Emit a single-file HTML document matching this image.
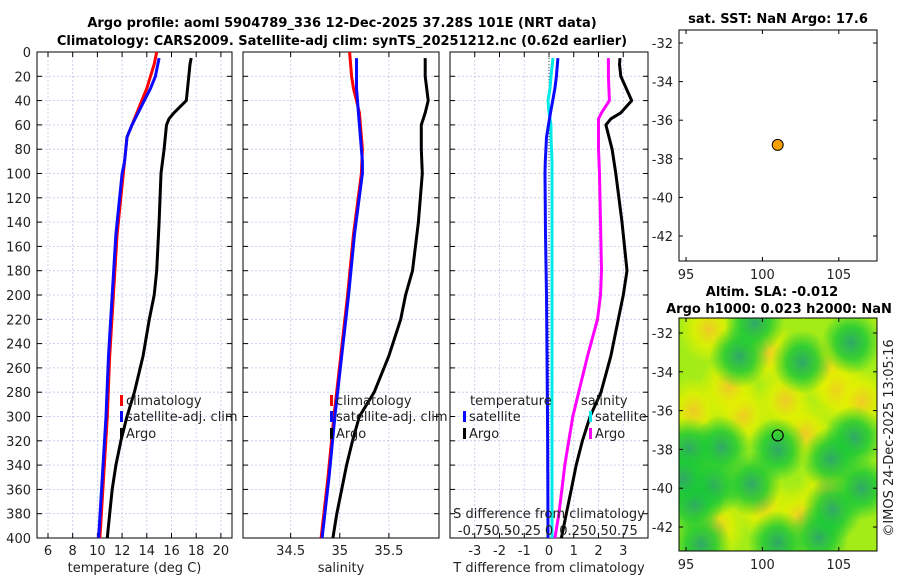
<!DOCTYPE html>
<html><head><meta charset="utf-8"><style>
body{margin:0;background:#fff;}
svg{display:block;font-family:"DejaVu Sans","Liberation Sans",sans-serif;}
</style></head><body>
<svg id="fig" width="900" height="580" viewBox="0 0 900 580"></svg>
<script>
// ---- data ----
const depthsClim = [0,10,20,30,40,50,60,70,80,100,150,200,250,300,350,400];
const tempClim   = [14.8,14.6,14.3,14.0,13.6,13.2,12.8,12.4,12.3,12.1,11.6,11.3,11.0,10.8,10.5,10.2];
const depthsSat  = [5,20,30,40,50,60,70,90,100,150,200,250,300,350,400];
const tempSat    = [15.0,14.7,14.3,13.8,13.3,12.8,12.4,12.2,12.0,11.5,11.2,10.9,10.7,10.4,10.1];
const depthsArgo = [5,10,20,40,50,55,60,80,100,140,180,200,220,250,280,300,320,340,360,380,400];
const tempArgo   = [17.6,17.5,17.4,17.2,16.2,15.8,15.6,15.4,15.15,15.0,14.8,14.6,14.2,13.7,13.0,12.4,11.9,11.5,11.2,11.0,10.8];
const salClim    = [35.1,35.11,35.12,35.14,35.17,35.2,35.21,35.22,35.23,35.22,35.14,35.08,35.01,34.94,34.88,34.81];
const salSat     = [35.17,35.17,35.17,35.18,35.19,35.2,35.21,35.23,35.23,35.15,35.09,35.02,34.95,34.89,34.82];
const salArgo    = [35.87,35.87,35.87,35.9,35.87,35.85,35.83,35.83,35.84,35.8,35.74,35.67,35.62,35.5,35.35,35.2,35.13,35.07,35.02,34.97,34.93];
const tDiffSat   = [0.36,0.3,0.24,0.15,0.06,-0.02,-0.1,-0.15,-0.16,-0.14,-0.1,-0.08,-0.06,-0.05,-0.04];
const sDiffSat   = [0.04,0.02,0.01,-0.01,0.0,0.02,0.02,0.03,0.03,0.03,0.03,0.03,0.03,0.03,0.03];
const tDiffArgo  = [2.87,2.85,2.9,3.34,2.9,2.5,2.3,2.55,2.7,2.95,3.15,3.0,2.8,2.5,2.1,1.66,1.35,1.1,0.9,0.7,0.5];
const sDiffArgo  = [0.6,0.6,0.6,0.61,0.53,0.5,0.5,0.5,0.51,0.52,0.53,0.52,0.49,0.39,0.3,0.24,0.2,0.16,0.13,0.1,0.06];
const depthTicks = [0,20,40,60,80,100,120,140,160,180,200,220,240,260,280,300,320,340,360,380,400];
const tempTicks  = [6,8,10,12,14,16,18,20];
const salTicks   = [34.5,35,35.5];
const diffTicks  = [-3,-2,-1,0,1,2,3];
const sDiffTickLabels = ["-0.75","-0.5","-0.25","0","0.25","0.5","0.75"];
const lonTicks = [95,100,105];
const latTicks = [-32,-34,-36,-38,-40,-42];
const argoLon = 101.0, argoLat = -37.28;
const greenLon = [98.5,102.6,105.8,97.3,99.3,96.7,106,103.7,101,95.2,95.5,101,104.6,96,99.5,106.5,94.8,104.5];
const greenLat = [-33.2,-33.5,-32.5,-37.9,-39.8,-39.9,-37.4,-42.5,-42.8,-38,-40.8,-38,-41.1,-42.9,-31.5,-40,-39.5,-38.5];
const yellowLon = [102.8,104.3,105,104.3,98.7,100.3,97,95.5,97.8,101.5,96.5,102.5,100,106.5];
const yellowLat = [-37.2,-33.9,-35,-40.1,-36.2,-33,-42,-36,-34.8,-35.5,-31.8,-41.5,-40.8,-35.5];

const NS="http://www.w3.org/2000/svg";
const svg=document.getElementById('fig');
function el(tag,attrs,parent){const e=document.createElementNS(NS,tag);for(const k in attrs)e.setAttribute(k,attrs[k]);(parent||svg).appendChild(e);return e;}
function txt(x,y,s,attrs){const t=el('text',Object.assign({x:x,y:y,'font-size':13,fill:'#222'},attrs||{}));t.textContent=s;return t;}

const PY0=52, PY1=538;
const yD=d=>PY0+(d/400)*(PY1-PY0);
function scale(d0,d1,p0,p1){return v=>p0+(v-d0)/(d1-d0)*(p1-p0);}
const panels=[
 {name:'temperature-panel',x0:37,x1:232,sx:scale(5.11,20.9,37,232),ticks:tempTicks,lab:'temperature (deg C)'},
 {name:'salinity-panel',x0:243,x1:439,sx:scale(34.015,36.01,243,439),ticks:salTicks,lab:'salinity'},
 {name:'difference-panel',x0:450,x1:648,sx:scale(-4,4,450,648),ticks:diffTicks,lab:'T difference from climatology'}
];
panels.forEach(p=>{
  const g=el('g',{});
  
  
  depthTicks.forEach(d=>{const y=yD(d);el('line',{x1:p.x0,x2:p.x1,y1:y,y2:y,stroke:'#c0c8ec','stroke-width':0.8,'stroke-dasharray':'2,2'},g);
    el('line',{x1:p.x0,x2:p.x0+5,y1:y,y2:y,stroke:'#000'},g);el('line',{x1:p.x1,x2:p.x1-5,y1:y,y2:y,stroke:'#000'},g);});
  p.ticks.forEach((v,i)=>{const x=p.sx(v);el('line',{x1:x,x2:x,y1:PY0,y2:PY1,stroke:'#c0c8ec','stroke-width':0.8,'stroke-dasharray':'2,2'},g);
    el('line',{x1:x,x2:x,y1:PY1,y2:PY1-5,stroke:'#000'},g);el('line',{x1:x,x2:x,y1:PY0,y2:PY0+5,stroke:'#000'},g);
    const t=txt(x,555,String(v),{'text-anchor':'middle'});});
  el('rect',{x:p.x0,y:PY0,width:p.x1-p.x0,height:PY1-PY0,fill:'none',stroke:'#000','stroke-width':1},g);
  const xl=txt((p.x0+p.x1)/2,572,p.lab,{'text-anchor':'middle'});
  
});
depthTicks.forEach(d=>{const t=txt(31,yD(d)+5,String(d),{'text-anchor':'end'});});

function line(xs,ds,sx,color,name,w){
  const pts=xs.map((v,i)=>sx(v).toFixed(1)+','+yD(ds[i]).toFixed(1)).join(' ');
  const l=el('polyline',{points:pts,fill:'none',stroke:color,'stroke-width':w||3,'stroke-linejoin':'round'});
  
}
const P=panels;
line(tempClim,depthsClim,P[0].sx,'#f00','temp-climatology-line');
line(tempSat,depthsSat,P[0].sx,'#0a0aff','temp-satellite-line');
line(tempArgo,depthsArgo,P[0].sx,'#000','temp-argo-line');
line(salClim,depthsClim,P[1].sx,'#f00','sal-climatology-line');
line(salSat,depthsSat,P[1].sx,'#0a0aff','sal-satellite-line');
line(salArgo,depthsArgo,P[1].sx,'#000','sal-argo-line');
el('line',{x1:P[2].sx(0),x2:P[2].sx(0),y1:PY0,y2:PY1,stroke:'#444','stroke-dasharray':'1,2'});
line(sDiffSat.map(v=>v*4),depthsSat,P[2].sx,'#00e8e8','sal-diff-satellite-line');
line(tDiffSat,depthsSat,P[2].sx,'#0a0aff','temp-diff-satellite-line');
line(sDiffArgo.map(v=>v*4),depthsArgo,P[2].sx,'#ff00ff','sal-diff-argo-line');
line(tDiffArgo,depthsArgo,P[2].sx,'#000','temp-diff-argo-line');

function leg(x,y,color,label,name){
  const g=el('g',{});
  el('rect',{x:x,y:y-10,width:3,height:11,fill:color},g);
  const t=txt(x+6,y,label,{},);g.appendChild(t);
}
leg(120,405,'#f00','climatology','legend-climatology');
leg(120,421,'#0a0aff','satellite-adj. clim','legend-satellite-adj');
leg(120,438,'#000','Argo','legend-argo');
leg(330,405,'#f00','climatology','legend-climatology-sal');
leg(330,421,'#0a0aff','satellite-adj. clim','legend-satellite-adj-sal');
leg(330,438,'#000','Argo','legend-argo-sal');
txt(470,405,'temperature');
txt(581,405,'salinity');
leg(463,421,'#0a0aff','satellite','legend-temp-satellite');
leg(463,438,'#000','Argo','legend-temp-argo');
leg(589,421,'#00e8e8','satellite','legend-sal-satellite');
leg(589,438,'#ff00ff','Argo','legend-sal-argo');
txt(549,518,'S difference from climatology',{'text-anchor':'middle'});
diffTicks.forEach((v,i)=>{const t=txt(P[2].sx(v),535,sDiffTickLabels[i],{'text-anchor':'middle'});});

// titles
txt(342,27,'Argo profile: aoml 5904789_336 12-Dec-2025 37.28S 101E (NRT data)',{'text-anchor':'middle','font-weight':'bold','fill':'#000'});
txt(342,45,'Climatology: CARS2009. Satellite-adj clim: synTS_20251212.nc (0.62d earlier)',{'text-anchor':'middle','font-weight':'bold','fill':'#000'});

// maps
const MX0=679,MX1=877;
const mx=scale(94.54,107.5,MX0,MX1);
function mapAxes(y0,y1,ly,name){
  const my=scale(-32,-42,ly[0],ly[1]);
  const g=el('g',{});
  return {g,my,y0,y1};
}
const m1=mapAxes(30,261,[43,236],'sst-map');
const m2=mapAxes(318,551,[333,527],'sla-map');
const defs=el('defs',{});
const cp=el('clipPath',{id:'clip2'},defs);el('rect',{x:MX0,y:318,width:MX1-MX0,height:233},cp);
function grad(id,c1,c2,o){const g=el('radialGradient',{id:id},defs);el('stop',{offset:'0%','stop-color':c1,'stop-opacity':o},g);el('stop',{offset:'50%','stop-color':c2,'stop-opacity':0.8},g);el('stop',{offset:'100%','stop-color':c2,'stop-opacity':0},g);}
grad('gG','#30a868','#18c838',1);grad('gY','#f4c828','#e4f000',0.95);
const hm=el('g',{'clip-path':'url(#clip2)'},m2.g);
el('rect',{x:MX0,y:318,width:MX1-MX0,height:233,fill:'#a4ec18'},hm);
yellowLon.forEach((lo,i)=>{const c=el('ellipse',{cx:mx(lo),cy:m2.my(yellowLat[i]),rx:30,ry:34,fill:'url(#gY)'},hm);});
greenLon.forEach((lo,i)=>{const c=el('ellipse',{cx:mx(lo),cy:m2.my(greenLat[i]),rx:30,ry:32,fill:'url(#gG)'},hm);});
[m1,m2].forEach(m=>{
  el('rect',{x:MX0,y:m.y0,width:MX1-MX0,height:m.y1-m.y0,fill:'none',stroke:'#000'},m.g);
  lonTicks.forEach(v=>{const x=mx(v);el('line',{x1:x,x2:x,y1:m.y1,y2:m.y1-4,stroke:'#000'},m.g);el('line',{x1:x,x2:x,y1:m.y0,y2:m.y0+4,stroke:'#000'},m.g);
    const t=txt(x,m.y1+18,String(v),{'text-anchor':'middle'});});
  latTicks.forEach(v=>{const y=m.my(v);el('line',{x1:MX0,x2:MX0+4,y1:y,y2:y,stroke:'#000'},m.g);el('line',{x1:MX1,x2:MX1-4,y1:y,y2:y,stroke:'#000'},m.g);
    const t=txt(673,y+5,String(v),{'text-anchor':'end'});});
});
const dot=el('circle',{cx:mx(argoLon),cy:m1.my(argoLat),r:5.5,fill:'#f5a000',stroke:'#000','stroke-width':1});

const ring=el('circle',{cx:mx(argoLon),cy:m2.my(argoLat),r:5.5,fill:'none',stroke:'#000','stroke-width':1.2});

txt(778,23,'sat. SST: NaN Argo: 17.6',{'text-anchor':'middle','font-weight':'bold','fill':'#000'});
txt(772,296,'Altim. SLA: -0.012',{'text-anchor':'middle','font-weight':'bold','fill':'#000'});
txt(779,313,'Argo h1000: 0.023 h2000: NaN',{'text-anchor':'middle','font-weight':'bold','fill':'#000'});
txt(0,0,'©IMOS 24-Dec-2025 13:05:16',{'text-anchor':'middle',transform:'translate(893,438) rotate(-90)'});
</script>
</body></html>
